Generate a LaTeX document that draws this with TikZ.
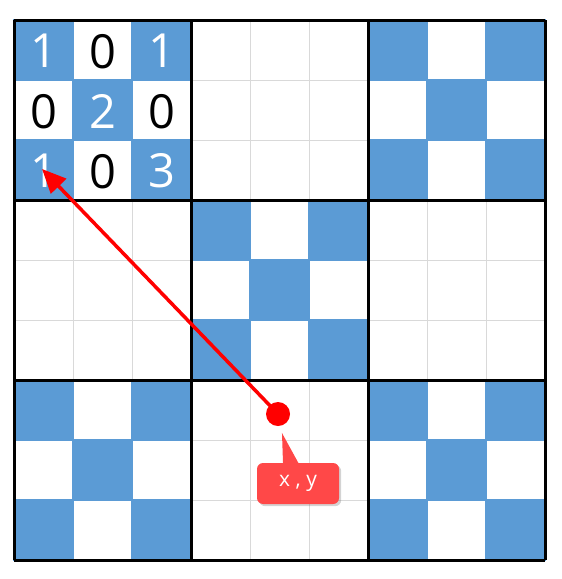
\documentclass[tikz,border=0pt]{standalone}
\usepackage{fontspec}
\setsansfont{Open Sans}
\usetikzlibrary{arrows.meta,shadows}

\definecolor{cellblue}{RGB}{91,155,213}
\definecolor{tagred}{RGB}{255,72,72}

\tikzset{
  blue cell/.style={fill=cellblue},
  digit/.style={font=\sffamily\fontsize{47}{47}\selectfont},
  thin grid/.style={draw=black!15,line width=0.8pt},
  block line/.style={draw=black,line width=3pt},
}

\begin{document}
\begin{tikzpicture}[x=59pt,y=-60pt]
\useasboundingbox (-0.2373,-0.3333) rectangle (9.2881,9.3167);
% light grid
\foreach \i in {1,...,8} {
  \draw[thin grid] (\i,0) -- (\i,9);
  \draw[thin grid] (0,\i) -- (9,\i);
}
% blue cells, X pattern inside X pattern
\foreach \bi/\bj in {0/0,2/0,1/1,0/2,2/2}
  \foreach \ci/\cj in {0/0,2/0,1/1,0/2,2/2}
    \fill[blue cell] (3*\bi+\ci-0.01,3*\bj+\cj-0.01) rectangle +(1.02,1.02);
% block lines
\foreach \i in {0,3,6,9} {
  \draw[block line] (\i,0) -- (\i,9);
  \draw[block line] (0,\i) -- (9,\i);
}
% numbers of the first block
\foreach \c/\r/\v/\col in {0/0/1/white,1/0/0/black,2/0/1/white,
                           0/1/0/black,1/1/2/white,2/1/0/black,
                           0/2/1/white,1/2/0/black,2/2/3/white}
  \node[digit,text=\col] (n\c\r) at (\c+0.5,\r+0.52) {\v};
% point and arrow
\coordinate (xy) at (4.475,6.567);
\coordinate (tip) at (0.475,2.483);
\draw[red,line width=3.5pt,-{Triangle[length=24pt,width=21pt]}] (xy) -- (tip);
\fill[red] (xy) circle (12pt);
% label
\node[fill=tagred,rounded corners=6pt,drop shadow={opacity=0.35},
      minimum width=82pt,minimum height=41pt,text=white,
      font=\sffamily\fontsize{21}{21}\selectfont] (lbl) at (4.814,7.725) {x , y};
\fill[tagred] (4.542,6.883) -- (4.83,7.40) -- (4.56,7.40) -- cycle;
\end{tikzpicture}
\end{document}
